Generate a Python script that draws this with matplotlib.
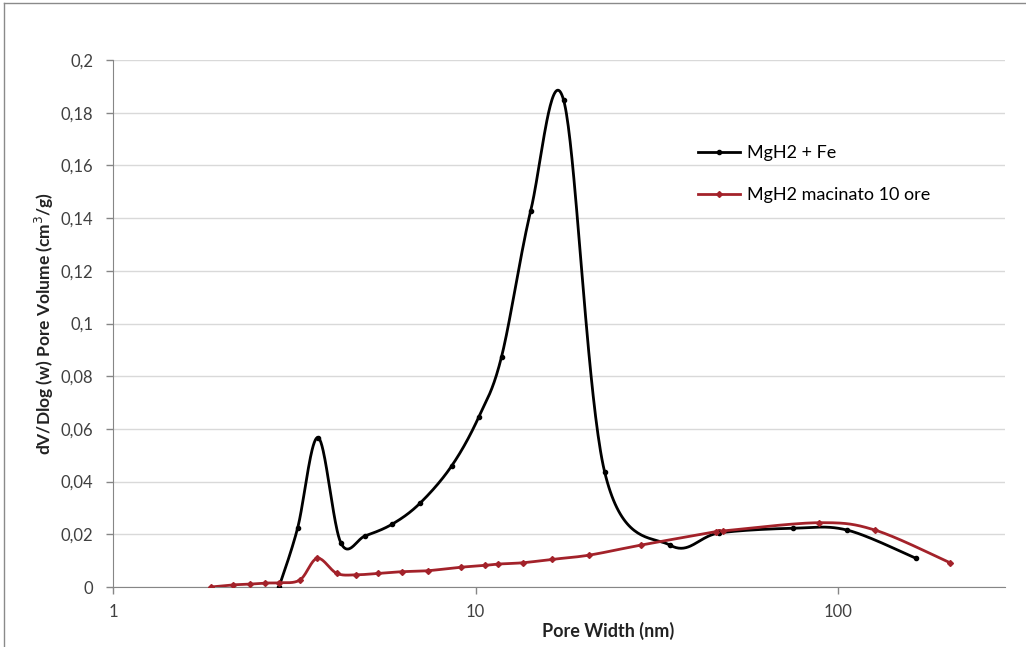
import numpy as np
import matplotlib
matplotlib.use("Agg")
import matplotlib.pyplot as plt
from matplotlib.ticker import FixedLocator, FuncFormatter, NullLocator
from matplotlib.lines import Line2D

# values (pore width in nm, dV/dlog(w) in cm3/g)
fe_width = [2.87, 3.23, 3.68, 4.25, 4.96, 5.9, 7.03, 8.59, 10.2, 11.8, 14.2,
            17.5, 22.7, 34.5, 47.0, 75.3, 106.0, 164.0]
fe_volume = [0.0, 0.0223, 0.0567, 0.0168, 0.0194, 0.0239, 0.0318, 0.0459,
             0.0644, 0.0874, 0.1428, 0.1848, 0.0438, 0.0158, 0.0205, 0.0223,
             0.0216, 0.0109]

milled_width = [1.86, 2.14, 2.39, 2.62, 2.87, 3.28, 3.66, 4.14, 4.67, 5.39,
                6.26, 7.41, 9.1, 10.6, 11.5, 13.5, 16.3, 20.6, 28.6, 46.0,
                48.3, 88.6, 126.5, 203.7]
milled_volume = [0.0, 0.0008, 0.0011, 0.0015, 0.0016, 0.0027, 0.0109, 0.0052,
                 0.0046, 0.0052, 0.0058, 0.0062, 0.0075, 0.0082, 0.0087, 0.0092,
                 0.0105, 0.0121, 0.0159, 0.021, 0.0213, 0.0244, 0.0216, 0.0092]

labels = ["MgH2 + Fe", "MgH2 macinato 10 ore"]
y_ticks = [0, 0.02, 0.04, 0.06, 0.08, 0.1, 0.12, 0.14, 0.16, 0.18, 0.2]
x_ticks = [1, 10, 100]

plt.rcParams["font.family"] = ["Lato", "DejaVu Sans"]


def smooth_line(ax, xs, ys, n=40):
    # Excel-style smoothed line: bezier segments built in display space
    pts = ax.transData.transform(np.column_stack([xs, ys]))
    pad = np.vstack([pts[0], pts, pts[-1]])
    out = []
    for i in range(len(pts) - 1):
        p0, p1, p2, p3 = pad[i], pad[i + 1], pad[i + 2], pad[i + 3]
        c1 = p1 + (p2 - p0) / 6
        c2 = p2 - (p3 - p1) / 6
        t = np.linspace(0, 1, n)[:, None]
        seg = ((1 - t) ** 3 * p1 + 3 * (1 - t) ** 2 * t * c1
               + 3 * (1 - t) * t ** 2 * c2 + t ** 3 * p2)
        out.append(seg)
    out = np.vstack(out)
    data = ax.transData.inverted().transform(out)
    return data[:, 0], data[:, 1]


fig = plt.figure(figsize=(10.26, 6.47), dpi=100)
ax = fig.add_axes([113 / 1026, 1 - 587 / 647, (1005 - 113) / 1026, (587 - 60) / 647])

ax.set_xscale("log")
ax.set_xlim(1, 10 ** ((1005 - 113) / 362.5))
ax.set_ylim(0, 0.2)

series = [
    (fe_width, fe_volume, "black", "o", 3),
    (milled_width, milled_volume, "#a3222a", "D", 3),
]
for (xs, ys, color, marker, ms), label in zip(series, labels):
    sx, sy = smooth_line(ax, xs, ys)
    ax.plot(sx, sy, color=color, lw=2, solid_capstyle="round", zorder=3)
    ax.plot(xs, ys, ls="none", marker=marker, ms=ms, color=color, zorder=4)

handles = [
    Line2D([], [], color="black", lw=2, marker="o", ms=3),
    Line2D([], [], color="#a3222a", lw=2, marker="D", ms=3),
]
fig.legend(handles, labels, loc="upper left",
           bbox_to_anchor=(698 / 1026, 1 - 145 / 647),
           frameon=False, fontsize=13, handlelength=2.3,
           handletextpad=0.4, labelspacing=1.46, borderpad=0,
           borderaxespad=0, numpoints=1)

ax.yaxis.set_major_locator(FixedLocator(y_ticks))
ax.xaxis.set_major_locator(FixedLocator(x_ticks))
ax.xaxis.set_minor_locator(NullLocator())
ax.yaxis.set_major_formatter(FuncFormatter(lambda v, p: f"{v:g}".replace(".", ",")))
ax.xaxis.set_major_formatter(FuncFormatter(lambda v, p: f"{v:g}"))

ax.grid(axis="y", color="#d9d9d9", lw=1)
ax.set_axisbelow(True)
for side in ["top", "right"]:
    ax.spines[side].set_visible(False)
for side in ["left", "bottom"]:
    ax.spines[side].set_color("#868686")
ax.tick_params(axis="both", colors="#868686", labelcolor="#404040",
               labelsize=12, length=5, width=1)
ax.tick_params(axis="y", pad=9)
ax.tick_params(axis="x", pad=7)

ax.set_ylabel("dV/Dlog (w) Pore Volume (cm$^3$/g)", fontsize=12.5,
              fontweight="bold", color="#222222")
ax.yaxis.set_label_coords(-0.064, 0.5)
fig.text(608 / 1026, 1 - 631 / 647, "Pore Width (nm)", ha="center",
         va="center", fontsize=13, fontweight="bold", color="#222222")

# chart frame (cropped on the right and bottom)
fig.add_artist(Line2D([4 / 1026, 1], [1 - 3 / 647, 1 - 3 / 647],
                      color="#8a8a8a", lw=1))
fig.add_artist(Line2D([4 / 1026, 4 / 1026], [0, 1 - 3 / 647],
                      color="#8a8a8a", lw=1))

fig.savefig("out.png", dpi=100)
